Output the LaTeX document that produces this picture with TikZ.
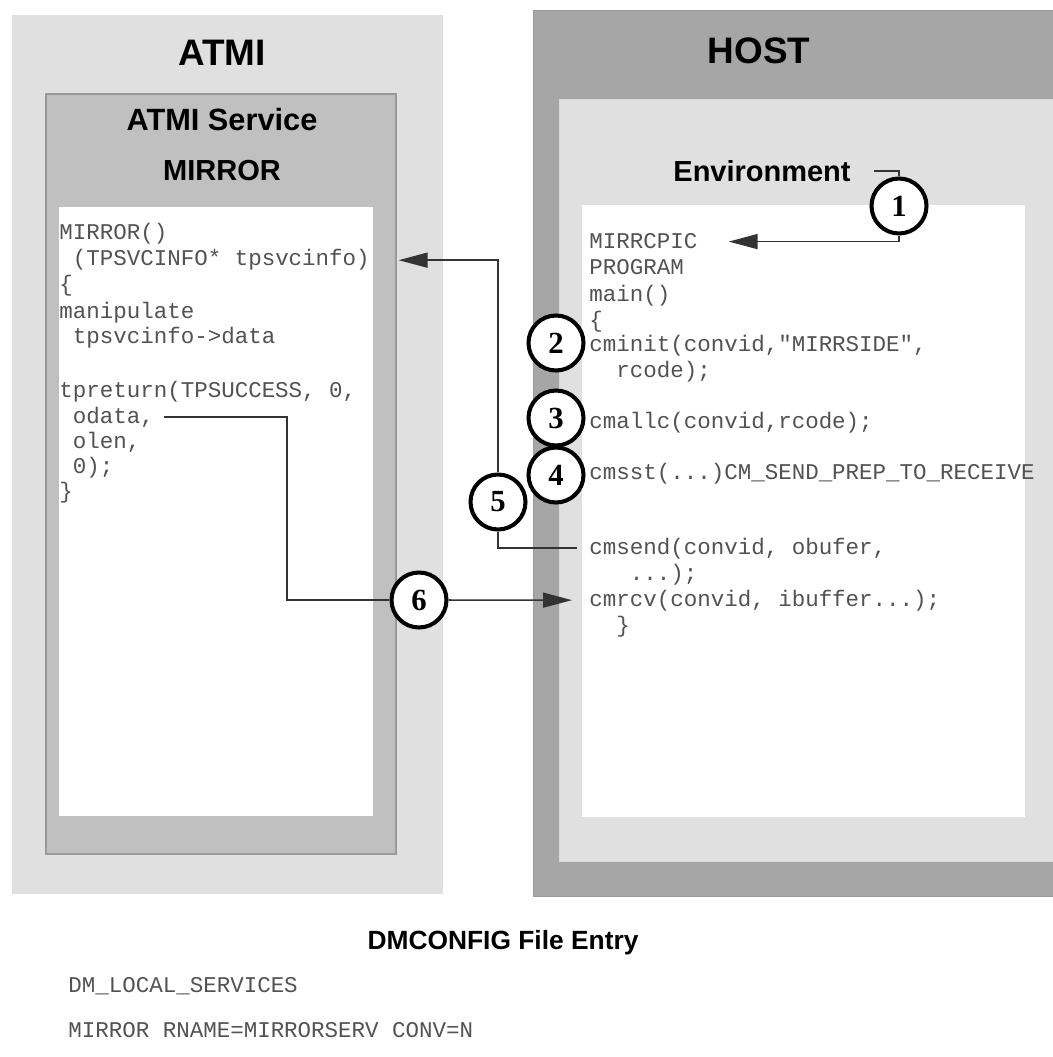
\documentclass[tikz,border=0pt]{standalone}
\usepackage{fontspec}
\setmainfont{Liberation Serif}
\setsansfont{Liberation Sans}
\setmonofont{Liberation Mono}
\usepackage{xcolor}
\usetikzlibrary{arrows.meta,positioning}
\definecolor{paleg}{RGB}{224,224,224}
\definecolor{midg}{RGB}{192,192,192}
\definecolor{darkg}{RGB}{166,166,166}

\begin{document}
\begin{tikzpicture}[x=0.02cm,y=-0.02cm,
	code/.style={anchor=base west,inner sep=0pt,text=black!68,font=\ttfamily\fontsize{12.8}{14}\selectfont},
	bigtitle/.style={font=\sffamily\bfseries\fontsize{21}{24}\selectfont},
	subtitle/.style={font=\sffamily\bfseries\fontsize{16.5}{19}\selectfont},
	stepmark/.style={circle,draw,line width=2.3pt,fill=white,minimum size=1.1cm,inner sep=0pt,font=\rmfamily\bfseries\fontsize{17.5}{17.5}\selectfont},
	link/.style={draw=black!80,line width=0.9pt},
	>={Triangle[length=0.58cm,width=0.3cm]}]
	\useasboundingbox (0,0) rectangle (1052,1057);

	% ATMI side
	\draw[fill=paleg,draw=black!12] (12,15) rectangle (442,893);
	\draw[fill=midg,draw=black!40,line width=0.6pt] (46,94) rectangle (396,854);
	\fill[white] (59,207) rectangle (373,816);
	\node[bigtitle] (atmi) at (222,53) {ATMI};
	\node[subtitle,font=\sffamily\bfseries\fontsize{17.5}{20}\selectfont] (svc) at (222,120) {ATMI Service};
	\node[subtitle] (mirror) at (222,171) {MIRROR};

	% HOST side
	\draw[fill=darkg,draw=black!40] (533,10) rectangle (1053,896);
	\draw[fill=paleg,draw=black!15] (559,99) rectangle (1053,861);
	\fill[white] (582,205) rectangle (1025,817);
	\node[bigtitle] (host) at (759,51) {HOST};
	\node[subtitle] (env) at (762,171) {Environment};

	% service code
	\node[code] (l1)  at (59,240) {MIRROR()};
	\node[code] (l2)  at (59,266) {~(TPSVCINFO* tpsvcinfo)};
	\node[code] (l3)  at (59,292) {\{};
	\node[code] (l4)  at (59,318) {manipulate};
	\node[code] (l5)  at (59,343) {~tpsvcinfo->data};
	\node[code] (l6)  at (59,397) {tpreturn(TPSUCCESS, 0,};
	\node[code] (l7)  at (59,423) {~odata,};
	\node[code] (l8)  at (59,448) {~olen,};
	\node[code] (l9)  at (59,473) {~0);};
	\node[code] (l10) at (59,498) {\}};

	% host program
	\node[code] (r1)  at (589,249) {MIRRCPIC};
	\node[code] (r2)  at (589,275) {PROGRAM};
	\node[code] (r3)  at (589,301) {main()};
	\node[code] (r4)  at (589,327) {\{};
	\node[code] (r5)  at (589,351) {cminit(convid,"MIRRSIDE",};
	\node[code] (r6)  at (589,377) {~~rcode);};
	\node[code] (r7)  at (589,428) {cmallc(convid,rcode);};
	\node[code] (r8)  at (589,479) {cmsst(...)CM\_SEND\_PREP\_TO\_RECEIVE};
	\node[code] (r9)  at (589,554) {cmsend(convid, obufer,};
	\node[code] (r10) at (589,580) {~~~...);};
	\node[code] (r11) at (589,606) {cmrcv(convid, ibuffer...);};
	\node[code] (r12) at (589,632) {~~\}};

	% steps
	\node[stepmark] (s1) at (899,206) {1};
	\node[stepmark] (s2) at (556,343) {2};
	\node[stepmark] (s3) at (556,418) {3};
	\node[stepmark] (s4) at (556,475) {4};
	\node[stepmark] (s5) at (498,502) {5};
	\node[stepmark] (s6) at (419,600) {6};
	\coordinate (bend6) at (287,600);

	\draw[link,shorten <=0.34cm] (env.east) -| (s1);
	\draw[link,->,shorten >=0.62cm] (s1) |- (r1.east);
	\draw[link,shorten <=0.24cm] (r9.west) -| (s5);
	\draw[link,->,shorten >=0.57cm] (s5) |- (l2.east);
	\draw[link,shorten <=0.2cm] (l7.east) -| (bend6) -- (s6);
	\draw[link,->,shorten >=0.34cm] (s6) -- (r11.west);

	% config entry
	\node[font=\sffamily\bfseries\fontsize{15}{18}\selectfont] (cfg) at (503,943) {DMCONFIG File Entry};
	\node[code] (c1) at (68,992) {DM\_LOCAL\_SERVICES};
	\node[code] (c2) at (68,1037) {MIRROR RNAME=MIRRORSERV CONV=N};
\end{tikzpicture}
\end{document}
